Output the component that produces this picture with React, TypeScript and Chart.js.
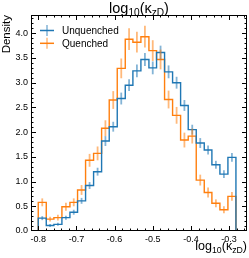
import React, { useEffect, useRef } from "react";
import { Chart, registerables } from "chart.js";

Chart.register(...registerables);

const binEdges = [
  -0.8, -0.779, -0.759, -0.738, -0.717, -0.697, -0.676, -0.655, -0.634, -0.614,
  -0.593, -0.572, -0.552, -0.531, -0.51, -0.49, -0.469, -0.448, -0.427, -0.407,
  -0.386, -0.365, -0.345, -0.324, -0.303, -0.282,
];
const unquenched = [
  0.26, 0.11, 0.135, 0.27, 0.38, 0.61, 0.92, 1.2, 1.82, 2.11, 2.68, 2.95, 3.24,
  3.47, 3.3, 3.61, 3.22, 3.0, 2.54, 2.05, 1.78, 1.64, 1.34, 1.15, 1.49,
];
const unquenchedErr = [
  0.04, 0.03, 0.03, 0.04, 0.05, 0.06, 0.07, 0.08, 0.1, 0.1, 0.12, 0.12, 0.13,
  0.13, 0.13, 0.14, 0.13, 0.12, 0.11, 0.1, 0.1, 0.09, 0.08, 0.08, 0.09,
];
const quenched = [
  0.58, 0.24, 0.27, 0.49, 0.58, 0.83, 1.43, 1.57, 2.08, 2.65, 3.29, 3.88, 3.82,
  3.93, 3.65, 3.47, 2.66, 2.34, 1.84, 1.92, 1.03, 0.78, 0.56, 0.43, 0.7,
];
const quenchedErr = [
  0.08, 0.05, 0.06, 0.08, 0.08, 0.1, 0.13, 0.14, 0.16, 0.18, 0.2, 0.22, 0.21,
  0.22, 0.21, 0.2, 0.18, 0.17, 0.15, 0.15, 0.11, 0.1, 0.08, 0.07, 0.09,
];
const xTicks = [-0.8, -0.7, -0.6, -0.5, -0.4, -0.3];
const yTicks = [0, 0.5, 1.0, 1.5, 2.0, 2.5, 3.0, 3.5, 4.0];
const seriesNames = ["Unquenched", "Quenched"];
const seriesColors = ["#1f77b4", "#ff7f0e"];
const seriesAlpha = ["rgba(31,119,180,0.55)", "rgba(255,127,14,0.55)"];

const FONT = "'Liberation Sans', Arial, sans-serif";

type Part = { t: string; sub?: boolean };
const labelParts: Part[] = [
  { t: "log" },
  { t: "10", sub: true },
  { t: "(κ" },
  { t: "zD", sub: true },
  { t: ")" },
];

function drawParts(ctx: CanvasRenderingContext2D, parts: Part[], size: number, x: number, y: number, align: "center" | "right") {
  let total = 0;
  const widths = parts.map((p) => {
    ctx.font = `${p.sub ? size * 0.7 : size}px ${FONT}`;
    const w = ctx.measureText(p.t).width;
    total += w;
    return w;
  });
  let cx = align === "center" ? x - total / 2 : x - total;
  ctx.textAlign = "left";
  ctx.textBaseline = "alphabetic";
  ctx.fillStyle = "#000";
  parts.forEach((p, i) => {
    ctx.font = `${p.sub ? size * 0.7 : size}px ${FONT}`;
    ctx.fillText(p.t, cx, p.sub ? y + size * 0.22 : y);
    cx += widths[i];
  });
}

function histData(vals: number[]) {
  const pts = [{ x: binEdges[0], y: 0 }];
  vals.forEach((v, i) => pts.push({ x: binEdges[i], y: v }));
  pts.push({ x: binEdges[binEdges.length - 1], y: 0 });
  return pts;
}

const decorPlugin = {
  id: "decor",
  afterDatasetsDraw(chart: any) {
    const ctx: CanvasRenderingContext2D = chart.ctx;
    const xs = chart.scales.x;
    const ys = chart.scales.y;
    const a = chart.chartArea;
    ctx.save();
    const series = [
      [unquenched, unquenchedErr],
      [quenched, quenchedErr],
    ];
    series.forEach(([vals, errs], si) => {
      ctx.strokeStyle = seriesAlpha[si];
      ctx.lineWidth = 1.8;
      vals.forEach((v, i) => {
        const cxv = (binEdges[i] + binEdges[i + 1]) / 2;
        const px = xs.getPixelForValue(cxv);
        ctx.beginPath();
        ctx.moveTo(px, ys.getPixelForValue(v - errs[i]));
        ctx.lineTo(px, ys.getPixelForValue(v + errs[i]));
        ctx.stroke();
      });
    });
    ctx.strokeStyle = "#000";
    ctx.lineWidth = 1;
    ctx.strokeRect(Math.round(a.left) + 0.5, Math.round(a.top) + 0.5, Math.round(a.right - a.left) - 1, Math.round(a.bottom - a.top) - 1);
    const tick = (x1: number, y1: number, x2: number, y2: number) => {
      ctx.beginPath();
      ctx.moveTo(x1, y1);
      ctx.lineTo(x2, y2);
      ctx.stroke();
    };
    for (let k = -41; k <= -12; k++) {
      const v = k * 0.02;
      const px = Math.round(xs.getPixelForValue(v)) + 0.5;
      if (px < a.left || px > a.right) continue;
      const major = xTicks.some((t) => Math.abs(t - v) < 1e-6);
      const L = major ? 5 : 2.5;
      tick(px, a.bottom, px, a.bottom - L);
      tick(px, a.top, px, a.top + L);
    }
    for (let k = 0; k <= 43; k++) {
      const v = k * 0.1;
      const py = Math.round(ys.getPixelForValue(v)) + 0.5;
      if (py < a.top || py > a.bottom) continue;
      const major = k % 5 === 0;
      const L = major ? 5 : 2.5;
      tick(a.left, py, a.left + L, py);
      tick(a.right, py, a.right - L, py);
    }
    seriesNames.forEach((name, i) => {
      const cy = 30.5 + i * 12.8;
      const cx = 47;
      ctx.strokeStyle = seriesColors[i];
      ctx.lineWidth = 1.5;
      tick(cx - 7, cy, cx + 7, cy);
      ctx.strokeStyle = seriesAlpha[i];
      tick(cx, cy - 5.5, cx, cy + 5.5);
      ctx.fillStyle = "#000";
      ctx.font = `10px ${FONT}`;
      ctx.textAlign = "left";
      ctx.textBaseline = "middle";
      ctx.fillText(name, 62, cy + 0.5);
    });
    drawParts(ctx, labelParts, 14.5, (a.left + a.right) / 2, 12.5, "center");
    drawParts(ctx, labelParts, 12.5, a.right, 250, "right");
    ctx.save();
    ctx.translate(10, a.top);
    ctx.rotate(-Math.PI / 2);
    ctx.font = `11.5px ${FONT}`;
    ctx.fillStyle = "#000";
    ctx.textAlign = "right";
    ctx.textBaseline = "alphabetic";
    ctx.fillText("Density", 0, 0);
    ctx.restore();
    ctx.restore();
  },
};

export default function App() {
  const ref = useRef<HTMLCanvasElement | null>(null);
  useEffect(() => {
    if (!ref.current) return;
    const chart = new Chart(ref.current, {
      type: "line",
      data: {
        datasets: [
          {
            label: seriesNames[0],
            data: histData(unquenched),
            borderColor: seriesColors[0],
            borderWidth: 1.4,
            stepped: "before",
            pointRadius: 0,
            fill: false,
          },
          {
            label: seriesNames[1],
            data: histData(quenched),
            borderColor: seriesColors[1],
            borderWidth: 1.4,
            stepped: "before",
            pointRadius: 0,
            fill: false,
          },
        ],
      },
      options: {
        animation: false,
        responsive: false,
        devicePixelRatio: 1,
        layout: { padding: { top: 15, right: 2, left: 0, bottom: 0 } },
        plugins: { legend: { display: false }, tooltip: { enabled: false }, title: { display: false } },
        scales: {
          x: {
            type: "linear",
            min: -0.819,
            max: -0.253,
            grid: { display: false, drawTicks: false },
            border: { display: false },
            afterBuildTicks: (s: any) => {
              s.ticks = xTicks.map((v) => ({ value: v }));
            },
            afterFit: (s: any) => {
              s.height = 27;
            },
            ticks: {
              padding: 3,
              color: "#000",
              maxRotation: 0,
              autoSkip: false,
              font: { size: 9, family: FONT },
              callback: (v: any) => Number(v).toFixed(1),
            },
          },
          y: {
            type: "linear",
            min: 0,
            max: 4.37,
            grid: { display: false, drawTicks: false },
            border: { display: false },
            afterBuildTicks: (s: any) => {
              s.ticks = yTicks.map((v) => ({ value: v }));
            },
            afterFit: (s: any) => {
              s.width = 31;
            },
            ticks: {
              padding: 3,
              color: "#000",
              autoSkip: false,
              font: { size: 9, family: FONT },
              callback: (v: any) => Number(v).toFixed(1),
            },
          },
        },
      },
      plugins: [decorPlugin],
    } as any);
    return () => chart.destroy();
  }, []);
  return (
    <div style={{ position: "fixed", left: 0, top: 0, width: 249, height: 258, background: "#fff" }}>
      <canvas ref={ref} width={249} height={258} style={{ display: "block", width: 249, height: 258 }} />
    </div>
  );
}
